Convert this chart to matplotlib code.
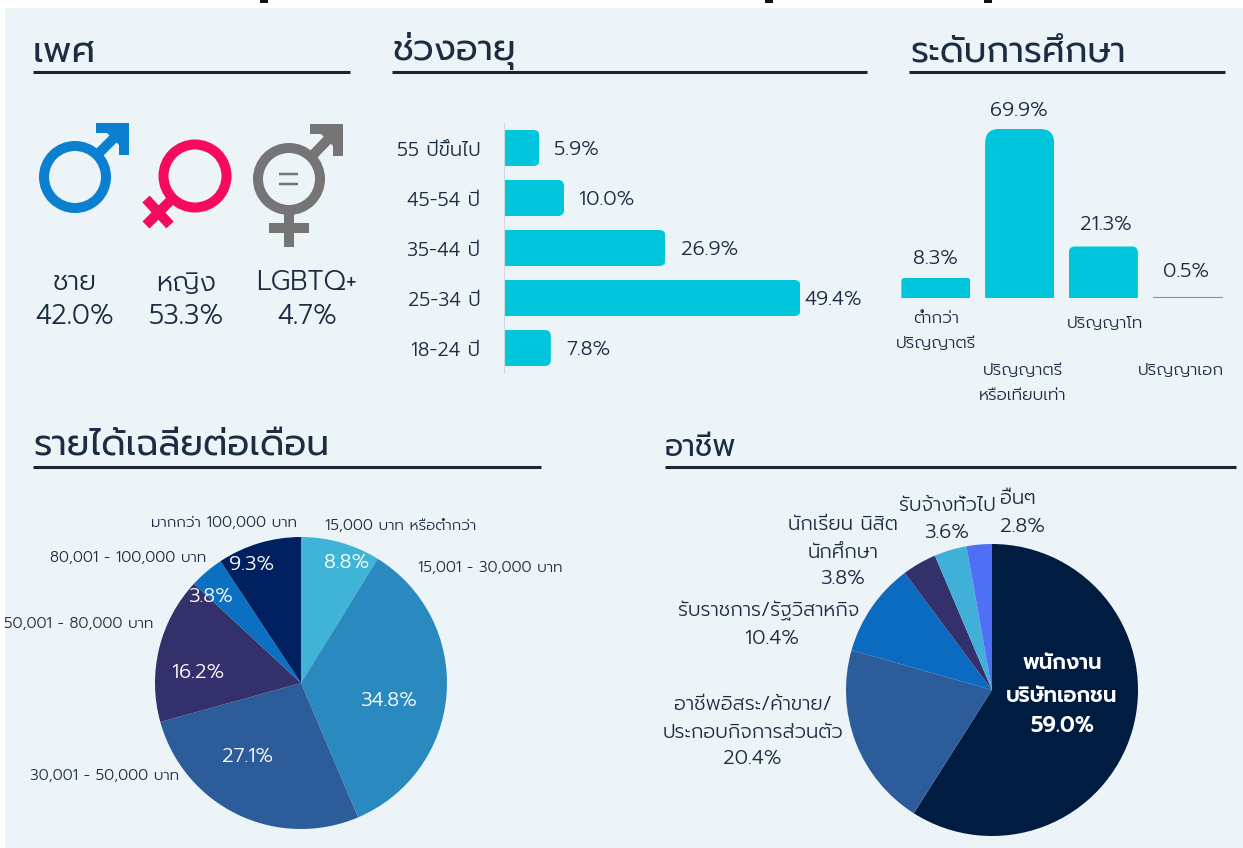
import matplotlib
matplotlib.use("Agg")
import matplotlib.pyplot as plt
from matplotlib.path import Path
from matplotlib.patches import Circle, Polygon, Rectangle
from matplotlib.transforms import IdentityTransform

W, H = 1243, 848
FONT = ['Prompt', 'Kanit', 'DejaVu Sans']
plt.rcParams['font.family'] = FONT
plt.rcParams['font.weight'] = 300

# ---- data ----
gender_labels = ['ชาย', 'หญิง', 'LGBTQ+']
gender_values = [42.0, 53.3, 4.7]
age_labels = ['18-24 ปี', '25-34 ปี', '35-44 ปี', '45-54 ปี', '55 ปีขึ้นไป']
age_values = [7.8, 49.4, 26.9, 10.0, 5.9]
edu_labels = ['ต่ำกว่า\nปริญญาตรี', 'ปริญญาตรี\nหรือเทียบเท่า', 'ปริญญาโท', 'ปริญญาเอก']
edu_values = [8.3, 69.9, 21.3, 0.5]
income_labels = ['15,000 บาท หรือต่ำกว่า', '15,001 - 30,000 บาท', '30,001 - 50,000 บาท',
                 '50,001 - 80,000 บาท', '80,001 - 100,000 บาท', 'มากกว่า 100,000 บาท']
income_values = [8.8, 34.8, 27.1, 16.2, 3.8, 9.3]
job_labels = ['พนักงาน\nบริษัทเอกชน', 'อาชีพอิสระ/ค้าขาย/\nประกอบกิจการส่วนตัว', 'รับราชการ/รัฐวิสาหกิจ',
              'นักเรียน นิสิต\nนักศึกษา', 'รับจ้างทั่วไป', 'อื่นๆ']
job_values = [59.0, 20.4, 10.4, 3.8, 3.6, 2.8]

# ---- style ----
BG = '#ecf4f7'
INK = '#1c2c42'
CYAN = '#00c5dc'
income_colors = ['#3fb4d6', '#2a8abf', '#2d5c9b', '#33306b', '#0b6fc2', '#00205f']
job_colors = ['#001c40', '#2d5c9b', '#0b6bc0', '#33306b', '#40b0d8', '#4f6ff5']


def ax_px(x0, y0, x1, y1, **kw):
    return fig.add_axes([x0 / W, 1 - y1 / H, (x1 - x0) / W, (y1 - y0) / H], **kw)


def t(x, y, s, size=13, color=INK, ha='center', va='center', weight=300, **kw):
    return fig.text(x / W, 1 - y / H, s, fontsize=size, color=color, ha=ha, va=va,
                    weight=weight, family=FONT, **kw)


def round_bar(ax, bar, r, side):
    """Clip a library bar so that the corners on one side are rounded by r pixels."""
    if r <= 0:
        return
    (xa, ya), (xb, yb) = ax.transData.transform(
        [(bar.get_x(), bar.get_y()), (bar.get_x() + bar.get_width(), bar.get_y() + bar.get_height())])
    M, L, Q, Z = Path.MOVETO, Path.LINETO, Path.CURVE3, Path.CLOSEPOLY
    if side == 'right':
        v = [(xa, ya), (xb - r, ya), (xb, ya), (xb, ya + r), (xb, yb - r), (xb, yb), (xb - r, yb), (xa, yb), (xa, ya)]
    else:
        v = [(xa, ya), (xa, yb - r), (xa, yb), (xa + r, yb), (xb - r, yb), (xb, yb), (xb, yb - r), (xb, ya), (xa, ya)]
    c = [M, L, Q, Q, L, Q, Q, L, Z]
    bar.set_clip_path(Path(v, c), IdentityTransform())


fig = plt.figure(figsize=(W / 100, H / 100), dpi=100, facecolor='white')

# ---- backdrop, rules, icons in pixel space ----
bg = fig.add_axes([0, 0, 1, 1], zorder=-1)
bg.set_xlim(0, W)
bg.set_ylim(H, 0)
bg.axis('off')
bg.add_patch(Rectangle((5, 8), W - 5, H - 8, fc=BG, ec='none'))
for x in (260, 765, 984):
    bg.add_patch(Rectangle((x, 0), 8, 3, fc='#111111', ec='none'))
for x0, x1, y in ((33, 350, 72), (392, 867, 72), (909, 1225, 72), (33, 541, 467), (665, 1236, 467)):
    bg.plot([x0, x1], [y, y], color='#1d2433', lw=2.2, solid_capstyle='butt')


def seg(p, q, c, w=10):
    bg.plot([p[0], q[0]], [p[1], q[1]], color=c, lw=w * 0.72, solid_capstyle='butt')


def ring(cx, cy, r, c, w=10):
    bg.add_patch(Circle((cx, cy), r - w / 2, fill=False, ec=c, lw=w * 0.72))


def arrow(cx, cy, tx, ty, c):
    seg((cx + 24, cy - 24), (tx - 6, ty + 6), c)
    bg.add_patch(Polygon([(tx - 33, ty), (tx, ty), (tx, ty + 32), (tx - 10, ty + 32), (tx - 10, ty + 22),
                          (tx - 22, ty + 10), (tx - 33, ty + 10)], fc=c, ec='none'))


BLUE, PINK, GREY = '#0b80d0', '#f50a5e', '#757575'
ring(75, 177, 36, BLUE)
arrow(75, 177, 129, 123, BLUE)
ring(195, 176, 36.5, PINK)
seg((170, 201), (146, 225), PINK)
seg((146, 199), (170, 225), PINK)
ring(289, 179, 36, GREY)
arrow(289, 179, 343, 124, GREY)
seg((289, 214), (289, 247), GREY)
seg((269, 228), (309, 228), GREY)
seg((279, 174), (298, 174), GREY, 2.5)
seg((279, 184), (298, 184), GREY, 2.5)

# ---- headings ----
t(33, 62, 'เพศ', 26.5, ha='left', va='baseline', weight=400)
t(392, 60, 'ช่วงอายุ', 26, ha='left', va='baseline', weight=400)
t(910, 62, 'ระดับการศึกษา', 25.5, ha='left', va='baseline', weight=400)
t(33, 456, 'รายได้เฉลี่ยต่อเดือน', 26, ha='left', va='baseline', weight=400)
t(665, 456, 'อาชีพ', 21.5, ha='left', va='baseline', weight=400)

# ---- gender ----
gender_x = [75, 186, 307]
for x, lab, val in zip(gender_x, gender_labels, gender_values):
    t(x, 283, lab, 19.5)
    t(x, 316, f'{val:.1f}%', 19.5)

# ---- age ----
ax = ax_px(504, 123, 864, 373, facecolor='none')
bars = ax.barh(range(len(age_values)), age_values, height=0.72, color=CYAN)
ax.set_xlim(0, 60)
ax.set_ylim(-0.5, 4.5)
ax.set_xticks([])
ax.set_yticks(range(len(age_labels)), age_labels, fontsize=14, color=INK)
ax.tick_params(axis='y', length=0, pad=17)
for s in ('top', 'right', 'bottom'):
    ax.spines[s].set_visible(False)
ax.spines['left'].set_color('#cfd8dc')
ax.spines['left'].set_linewidth(0.8)
age_gap = [15, 4, 16, 15, 15]
for i, (b, v, g) in enumerate(zip(bars, age_values, age_gap)):
    round_bar(ax, b, 6, 'right')
    ax.annotate(f'{v:.1f}%', (v, i), xytext=(g * 0.72, -1.0), textcoords='offset points',
                ha='left', va='center', fontsize=14.5, color=INK)

# ---- education ----
ax = ax_px(894, 116.6, 1229, 298, facecolor='none')
bars = ax.bar(range(len(edu_values)), edu_values, width=0.824, color=CYAN)
bars[3].set_edgecolor(CYAN)
bars[3].set_linewidth(0.8)
ax.set_xlim(-0.5, 3.5)
ax.set_ylim(0, 75)
ax.axis('off')
edu_r = [3, 14, 6, 0]
edu_value_y = [258, 110, 225, 272]
edu_value_x = [935, 1019, 1106, 1186]
edu_label_y = [331, 383, 323, 370]
edu_label_x = [936, 1023, 1105, 1181]
for b, r, v, vx, vy, lab, lx, ly in zip(bars, edu_r, edu_values, edu_value_x, edu_value_y,
                                        edu_labels, edu_label_x, edu_label_y):
    round_bar(ax, b, r, 'top')
    t(vx, vy, f'{v:.1f}%', 14.5)
    t(lx, ly, lab, 12.2, linespacing=1.57)

# ---- income pie ----
ax = ax_px(155, 537, 447, 829)
ax.pie(income_values, colors=income_colors, startangle=90, counterclock=False, radius=1,
       wedgeprops={'linewidth': 0})
ax.set_xlim(-1, 1)
ax.set_ylim(-1, 1)
income_label_xy = [(401, 526), (490, 568), (105, 776), (79, 624), (128, 558), (224, 523)]
income_value_xy = [(347, 562), (389, 700), (248, 757), (198, 673), (211, 597), (252, 564)]
for lab, v, (lx, ly), (vx, vy) in zip(income_labels, income_values, income_label_xy, income_value_xy):
    t(lx, ly, lab, 10.9)
    t(vx, vy, f'{v:.1f}%', 14.5, color='white')

# ---- job pie ----
ax = ax_px(846, 544, 1138, 836)
ax.pie(job_values, colors=job_colors, startangle=90, counterclock=False, radius=1,
       wedgeprops={'linewidth': 0})
ax.set_xlim(-1, 1)
ax.set_ylim(-1, 1)
job_label_xy = [(1062, 680), (753, 718), (769, 610), (843, 539), (947, 505), (1018, 499)]
job_value_xy = [(1062, 727), (752, 759), (772, 638), (843, 578), (947, 532), (1023, 527)]
for i, (lab, v, (lx, ly), (vx, vy)) in enumerate(zip(job_labels, job_values, job_label_xy, job_value_xy)):
    if i == 0:
        t(lx, ly, lab, 15.2, color='white', weight=600, linespacing=1.72)
        t(vx, vy, f'{v:.1f}%', 15.5, color='white', weight=600)
    else:
        t(lx, ly, lab, 14.2, linespacing=1.6)
        t(vx, vy, f'{v:.1f}%', 14.5)

fig.savefig('out.png', dpi=100, facecolor='white')
